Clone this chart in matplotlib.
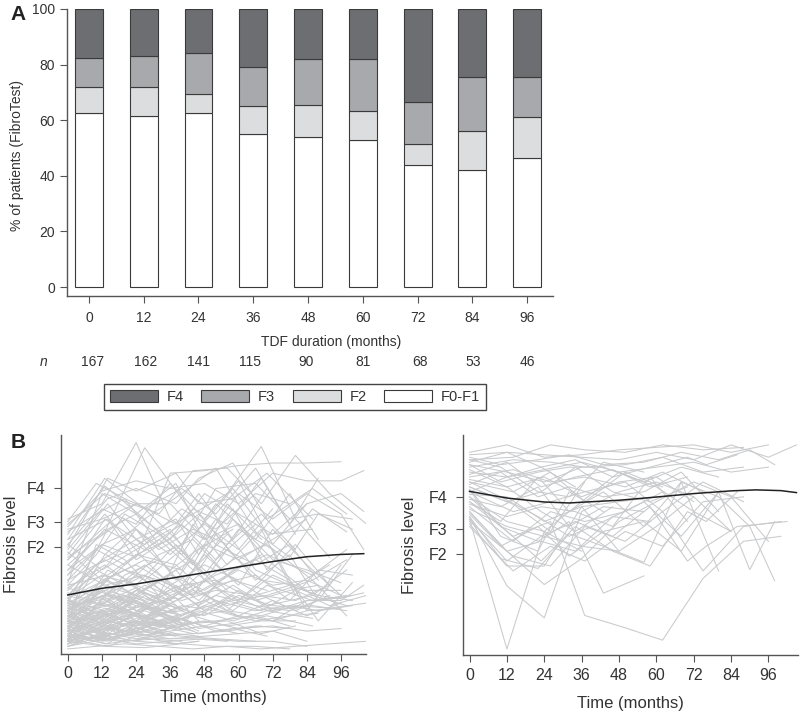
import matplotlib
matplotlib.use("Agg")
import matplotlib.pyplot as plt
from matplotlib.patches import Patch

plt.rcParams['font.family'] = ['Liberation Sans', 'DejaVu Sans']

# Panel A: stacked percentages
durations = [0, 12, 24, 36, 48, 60, 72, 84, 96]
n_patients = [167, 162, 141, 115, 90, 81, 68, 53, 46]
f0f1 = [62.5, 61.5, 62.5, 55, 54, 53, 44, 42, 46.5]
f2 = [9.5, 10.5, 7, 10, 11.5, 10.5, 7.5, 14, 14.5]
f3 = [10.5, 11, 14.5, 14, 16.5, 18.5, 15, 19.5, 14.5]
f4 = [17.5, 17, 16, 21, 18, 18, 33.5, 24.5, 24.5]

# Panel B: visit schedules (months)
S0 = [0, 12, 24, 36, 48, 60, 72, 84, 96, 104]
S1 = [0, 13, 27, 40, 52, 66, 78, 88, 100]
S2 = [0, 10, 20, 32, 44, 56, 68, 80, 92, 105]
S3 = [0, 14, 24, 38, 46, 58, 70, 86, 98]

left_patients = [
    (S0, [.60, .66, .90, .60, .52, .58, .44, .40, .35]),
    (S1, [.45, .55, .88, .68, .50, .42, .50, .36]),
    (S2, [.30, .42, .47, .55, .62, .70, .885, .60, .45]),
    (S0, [.40, .50, .45, .78, .79, .81, .82, .82, .825]),
    (S2, [.59, .74, .68, .62, .79, .80, .66, .85, .70, .58]),
    (S0, [.57, .71, .75, .72, .74, .66, .78, .75, .75, .79]),
    (S1, [.52, .73, .60, .70, .80, .55, .45, .62, .60]),
    (S3, [.50, .68, .72, .66, .76, .82, .60, .72, .62]),
    (S0, [.48, .64, .58, .74, .60, .75, .50, .66]),
    (S2, [.55, .62, .68, .50, .64, .58, .76, .54]),
    (S1, [.58, .70, .64, .72, .62, .80, .58, .76]),
    (S3, [.44, .58, .66, .58, .70, .52, .72]),
    (S0, [.56, .60, .66, .66, .52, .70, .60, .70, .62, .48]),
    (S2, [.42, .52, .60, .48, .56, .50, .62, .48]),
    (S1, [.38, .60, .50, .64, .56, .70, .66]),
    (S3, [.46, .66, .52, .60, .46, .64, .40, .64, .55]),
    (S0, [.36, .50, .56, .46, .58, .48, .64]),
    (S2, [.34, .46, .62, .54, .42, .66, .52]),
    (S1, [.40, .56, .48, .58, .44, .58]),
    (S3, [.52, .60, .44, .54, .62, .46]),
    (S0, [.32, .44, .52, .40, .50, .44, .52, .60]),
    (S2, [.38, .48, .42, .52, .40, .54]),
    (S1, [.44, .62, .44, .40, .60, .40, .34, .30]),
    (S3, [.30, .42, .56, .36, .48, .56]),
    (S0, [.50, .40, .48, .56, .36]),
    (S2, [.28, .40, .34, .46, .52, .38, .46]),
    (S1, [.36, .44, .36, .48, .34]),
    (S3, [.34, .38, .46, .42, .34, .44, .50, .36, .22]),
    (S0, [.47, .36, .42, .34, .42, .36]),
    (S2, [.26, .34, .40, .36, .44, .32]),
    (S1, [.42, .34, .38, .30, .38, .44, .36, .20, .35]),
    (S3, [.24, .36, .30, .40, .30, .36, .32]),
    (S0, [.30, .26, .38, .30, .36, .28, .38, .32, .32]),
    (S2, [.22, .32, .28, .36, .30, .38, .30, .28, .34]),
    (S1, [.28, .24, .34, .28, .32, .30, .34, .30, .28]),
    (S3, [.26, .30, .26, .32, .26, .34, .26, .30, .26]),
    (S0, [.24, .30, .22, .34, .24, .32, .24, .28, .29, .31]),
    (S2, [.20, .28, .30, .24, .32, .26, .30, .24, .30]),
    (S1, [.27, .20, .30, .22, .28, .24, .26, .24, .26]),
    (S3, [.22, .26, .32, .26, .22, .30, .24, .26, .24]),
    (S0, [.18, .26, .28, .20, .26, .22, .28, .22, .27]),
    (S2, [.25, .22, .24, .28, .22, .24, .22, .26, .25, .27]),
    (S1, [.21, .28, .20, .26, .24, .20, .22, .23]),
    (S3, [.19, .22, .28, .20, .24, .20, .24, .21]),
    (S0, [.23, .18, .26, .22, .18, .22, .20, .24, .25]),
    (S2, [.17, .24, .20, .18, .22, .18, .20, .20]),
    (S1, [.20, .17, .24, .19, .20, .22, .18]),
    (S3, [.16, .20, .18, .22, .17, .19, .22, .18]),
    (S0, [.22, .16, .20, .18, .20, .17, .18, .16, .17]),
    (S2, [.15, .18, .22, .16, .19, .20, .15, .18]),
    (S1, [.19, .14, .18, .21, .16, .18, .17]),
    (S3, [.14, .17, .15, .19, .15, .17, .14]),
    (S0, [.18, .15, .14, .16, .18, .15, .16, .12]),
    (S2, [.13, .16, .19, .14, .15, .16, .18]),
    (S1, [.17, .13, .16, .14, .13, .12]),
    (S3, [.12, .15, .13, .15, .14]),
    (S0, [.16, .12, .15, .13, .14, .15]),
    (S2, [.11, .14, .12, .13, .13, .12]),
    (S1, [.15, .11, .13, .12]),
    (S3, [.13, .10, .14, .11, .12]),
    (S0, [.14, .13, .11, .12, .13, .12, .12, .10]),
    (S2, [.09, .10, .11, .10, .09, .10, .09, .10, .11, .12]),
    (S1, [.12, .10, .095, .11, .10, .10, .09]),
    (S3, [.125, .14, .12, .11, .12]),
    (S0, [.20, .24, .18, .24, .28, .22, .20, .28, .28, .34]),
    (S2, [.29, .20, .26, .20, .24, .28, .24, .32, .26, .30]),
    (S1, [.31, .26, .22, .24, .30, .26, .24, .28, .30]),
    (S3, [.33, .28, .20, .28, .32, .24, .34, .28, .30]),
    (S0, [.26, .32, .24, .26, .22, .30, .26, .25]),
    (S2, [.19, .30, .36, .26, .34, .24, .36, .34, .42]),
    (S1, [.24, .32, .28, .34, .36, .28, .32, .34]),
    (S3, [.21, .34, .24, .30, .38, .28, .30, .36, .44]),
    (S0, [.28, .22, .30, .38, .32, .40, .34, .36, .30]),
    (S1, [.16, .22, .26, .18, .34, .38, .28, .40, .38]),
    (S3, [.18, .24, .22, .34, .28, .40, .46, .38, .48]),
    (S0, [.15, .20, .32, .28, .46, .34, .56, .42, .30]),
    (S2, [.14, .26, .38, .44, .30, .48, .36, .50, .34]),
    (S1, [.12, .30, .42, .32, .54, .36, .46, .28, .46]),
    (S3, [.17, .40, .34, .50, .40, .60, .44, .30, .40]),
    (S0, [.13, .34, .46, .52, .38, .56, .48, .24, .42]),
    (S2, [.20, .50, .44, .30, .58, .42, .56, .30]),
    (S1, [.23, .46, .60, .46, .66, .52, .70, .52]),
    (S3, [.27, .56, .62, .74, .56, .72, .54, .56]),
    (S0, [.35, .70, .62, .52, .70, .62, .54, .66, .70, .63]),
    (S1, [.54, .76, .64, .50, .72, .74, .60, .62, .56]),
    (S3, [.49, .76, .71, .78, .66, .68, .78, .60]),
    # short follow-up, low scores
    (S2, [.12, .16, .14, .18, .15]),
    (S2, [.14, .12, .17, .13]),
    (S2, [.16, .20, .15, .19, .16]),
    (S2, [.18, .14, .21, .16]),
    (S2, [.20, .16, .25, .18, .22]),
    (S2, [.22, .19, .14, .20]),
    (S2, [.24, .17, .22, .26]),
    (S2, [.26, .21, .16, .23, .19]),
    (S2, [.28, .23, .27]),
    (S2, [.11, .18, .24, .20]),
    (S2, [.13, .22, .18, .24, .17]),
    (S2, [.15, .26, .30, .22]),
    (S3, [.10, .13, .16, .14]),
    (S3, [.12, .19, .23, .17, .20]),
    (S3, [.14, .11, .19, .15]),
    (S3, [.16, .23, .18, .21]),
    (S3, [.18, .28, .33, .25]),
    (S3, [.20, .14, .12, .18]),
    (S3, [.22, .31, .27, .23]),
    (S3, [.24, .18, .26, .29, .20]),
    (S3, [.11, .15, .21, .24]),
    (S3, [.15, .12, .17, .20, .16]),
    (S0, [.10, .14, .17, .15]),
    (S0, [.13, .17, .22, .19, .24]),
    (S0, [.17, .13, .19, .26]),
    (S0, [.19, .23, .16, .21]),
    (S0, [.21, .27, .23, .17]),
    (S0, [.25, .19, .29]),
    (S0, [.27, .34, .30, .26]),
    (S0, [.29, .38, .34, .28]),
    (S0, [.11, .20, .29, .23]),
    (S0, [.12, .24, .18, .30]),
    (S1, [.10, .16, .20, .17]),
    (S1, [.13, .18, .14, .19]),
    (S1, [.18, .25, .21]),
    (S1, [.22, .15, .26, .22]),
    (S1, [.25, .30, .26]),
    (S1, [.29, .36, .28]),
    (S1, [.33, .42, .31]),
    (S1, [.11, .23, .31]),
    (S1, [.14, .30, .38, .24]),
    (S1, [.16, .36, .44, .30]),
]

left_median_months = [0, 12, 24, 36, 48, 60, 72, 84, 96, 104]
left_median = [.302, .328, .345, .367, .389, .412, .433, .452, .461, .464]

R0 = [0, 12, 24, 36, 48, 60, 72, 84, 96, 105]
R1 = [0, 14, 26, 37, 50, 62, 75, 88, 100]
R2 = [0, 10, 22, 32, 43, 56, 68, 80, 90, 98]
R3 = [0, 12, 23, 34, 46, 58, 70, 76, 86, 102]

right_patients = [
    (R0, [.63, .104, .58, .70, .82, .76, .66, .58]),
    (R0, [.64, .36, .23, .66, .74, .78, .72, .58]),
    (R1, [.70, .56, .62, .24, .19, .14, .39, .54, .56]),
    (R2, [.75, .60, .54, .62, .33, .40]),
    (R0, [.66, .50, .365, .47, .62, .70, .78, .72, .54]),
    (R2, [.70, .62, .80, .66, .74, .60, .78, .72, .60, .38]),
    (R2, [.78, .72, .64, .56, .62, .70, .56, .74, .425, .62]),
    (R3, [.72, .58, .46, .60, .50, .44, .66, .62, .74]),
    (R0, [.90, .93, .88, .89, .91, .92, .93, .90, .93]),
    (R1, [.87, .88, .93, .91, .90, .93, .91, .92]),
    (R0, [.89, .90, .89, .88, .87, .90, .87, .93, .88, .93]),
    (R2, [.88, .85, .87, .89, .85, .86, .90, .87, .91, .85]),
    (R3, [.86, .90, .84, .87, .80, .84, .88, .85, .89]),
    (R1, [.84, .87, .86, .84, .85, .88, .82, .84]),
    (R0, [.82, .80, .83, .86, .82, .84, .86, .82, .84]),
    (R2, [.85, .78, .82, .84, .84, .78, .84, .80]),
    (R3, [.81, .86, .76, .80, .83, .76, .80]),
    (R1, [.80, .83, .78, .80, .76, .82, .74]),
    (R0, [.79, .76, .80, .72, .78, .80, .70]),
    (R2, [.77, .82, .72, .76, .72, .74, .82, .66]),
    (R3, [.76, .70, .74, .84, .74, .70, .76]),
    (R1, [.74, .66, .70, .74, .78, .66, .78, .70]),
    (R0, [.73, .72, .62, .68, .70, .72]),
    (R2, [.71, .68, .76, .60, .68, .66]),
    (R3, [.69, .64, .68, .66, .60, .80, .62]),
    (R1, [.68, .54, .66, .62, .66, .74]),
    (R0, [.67, .60, .56, .52, .50, .60, .72]),
    (R2, [.65, .52, .60, .48, .58, .62, .50, .74]),
    (R3, [.63, .46, .56, .62, .56, .68, .46, .52, .60, .62]),
    (R1, [.62, .48, .44, .60, .54, .66, .42, .60, .62]),
    (R0, [.61, .44, .44, .68, .50]),
    (R2, [.64, .47, .43, .57, .52, .455, .78, .42]),
    (R3, [.66, .50, .54, .50, .64, .62]),
    (R1, [.60, .42, .52, .46, .58, .52, .70, .72]),
    (R0, [.72, .62, .58, .50]),
    (R2, [.75, .56, .50, .74, .66]),
    (R3, [.83, .76, .66, .58, .68]),
    (R1, [.78, .74, .82, .70, .82, .76]),
    (R0, [.85, .82, .78, .84]),
    (R2, [.87, .84, .74, .72, .86, .82]),
    (R3, [.74, .80, .84, .76]),
    (R1, [.76, .69, .58, .78]),
]

right_median_months = [0, 12, 24, 32, 36, 48, 60, 72, 84, 92, 100, 105]
right_median = [.742, .715, .699, .695, .698, .706, .719, .733, .744, .748, .745, .737]

patient_grey = '#c9cacc'
axis_grey = '#555555'
text_grey = '#333333'

W, H = 800, 711


def px_axes(fig, left, top, right, bottom):
    return fig.add_axes([left / W, 1 - bottom / H, (right - left) / W, (bottom - top) / H])


def style_axes(ax):
    for side in ['top', 'right']:
        ax.spines[side].set_visible(False)
    for side in ['left', 'bottom']:
        ax.spines[side].set_color(axis_grey)
        ax.spines[side].set_linewidth(1.0)


fig = plt.figure(figsize=(8, 7.11), dpi=100)

# ---- Panel A ----
ax = px_axes(fig, 67, 9, 553, 296)
style_axes(ax)
pos = list(range(len(durations)))
bottom = [0] * len(pos)
for vals, col in [(f0f1, 'white'), (f2, '#dcddde'), (f3, '#a7a9ac'), (f4, '#6d6e71')]:
    ax.bar(pos, vals, bottom=bottom, width=0.51, color=col, edgecolor='#3a3a3a', linewidth=0.8)
    bottom = [b + v for b, v in zip(bottom, vals)]
ax.set_xlim(-0.40, 8.47)
ax.set_ylim(-3.2, 100)
ax.set_xticks(pos)
ax.set_xticklabels(durations)
ax.set_yticks([0, 20, 40, 60, 80, 100])
ax.tick_params(axis='both', labelsize=10, colors=axis_grey, labelcolor=text_grey, length=5, width=0.8)
ax.tick_params(axis='x', pad=6)
ax.set_ylabel('% of patients (FibroTest)', fontsize=10, color=text_grey)
ax.yaxis.set_label_coords((24 - 67) / 486, 0.49)
fig.text(331 / W, 1 - 342 / H, 'TDF duration (months)', fontsize=10, color=text_grey, ha='center', va='center')

# n row
fig.text(44 / W, 1 - 362 / H, 'n', fontsize=10, style='italic', color=text_grey, ha='center', va='center')
n_px = [93, 146, 198, 250, 306, 363, 420, 473, 527]
for x, n in zip(n_px, n_patients):
    fig.text(x / W, 1 - 362 / H, str(n), fontsize=10, color=text_grey, ha='center', va='center')

handles = [Patch(facecolor='#6d6e71', edgecolor='#3a3a3a', linewidth=0.8, label='F4'),
           Patch(facecolor='#a7a9ac', edgecolor='#3a3a3a', linewidth=0.8, label='F3'),
           Patch(facecolor='#dcddde', edgecolor='#3a3a3a', linewidth=0.8, label='F2'),
           Patch(facecolor='white', edgecolor='#3a3a3a', linewidth=0.8, label='F0-F1')]
leg = fig.legend(handles=handles, ncol=4, loc='center', bbox_to_anchor=(295 / W, 1 - 397 / H),
                 fontsize=10.5, handlelength=3.3, handleheight=0.9, handletextpad=0.6, columnspacing=1.2,
                 fancybox=False, edgecolor='#444444', framealpha=1, borderpad=0.4, borderaxespad=0)
leg.get_frame().set_linewidth(1.0)
for t in leg.get_texts():
    t.set_color(text_grey)

fig.text(18 / W, 1 - 15 / H, 'A', fontsize=15, fontweight='bold', color='#222222', ha='center', va='center')
fig.text(18 / W, 1 - 443 / H, 'B', fontsize=15, fontweight='bold', color='#222222', ha='center', va='center')

# ---- Panel B ----
month_ticks = list(range(0, 97, 12))
grade_ticks = [.49, .59, .72]
grade_labels = ['F2', 'F3', 'F4']


def spaghetti(ax, patients, med_x, med_y, xlim, ylim, grades):
    style_axes(ax)
    for months, scores in patients:
        ax.plot(months[:len(scores)], scores, color=patient_grey, lw=0.75, solid_joinstyle='miter', zorder=2)
    ax.plot(med_x, med_y, color='#222222', lw=1.1, zorder=3)
    ax.set_xlim(*xlim)
    ax.set_ylim(*ylim)
    ax.set_xticks(month_ticks)
    ax.set_yticks(grades)
    ax.set_yticklabels(grade_labels)
    ax.tick_params(axis='both', labelsize=11.5, colors=axis_grey, labelcolor=text_grey, length=5, width=0.8)
    ax.tick_params(axis='y', pad=6)
    ax.tick_params(axis='x', pad=4)
    ax.set_xlabel('Time (months)', fontsize=12, color=text_grey)
    ax.set_ylabel('Fibrosis level', fontsize=12, color=text_grey)


ax_l = px_axes(fig, 61, 435, 366, 654)
spaghetti(ax_l, left_patients, left_median_months, left_median, (-2.4, 104.8), (.07, .93), grade_ticks)
ax_l.xaxis.set_label_coords(0.5, -0.165)
ax_l.yaxis.set_label_coords((19 - 61) / 305, 0.5)

ax_r = px_axes(fig, 463, 435, 798, 655)
spaghetti(ax_r, right_patients, right_median_months, right_median, (-2.1, 105.5), (.08, .97), grade_ticks)
ax_r.xaxis.set_label_coords(0.5, -0.185)
ax_r.yaxis.set_label_coords((417 - 463) / 335, 0.5)

fig.savefig('out.png', dpi=100)
